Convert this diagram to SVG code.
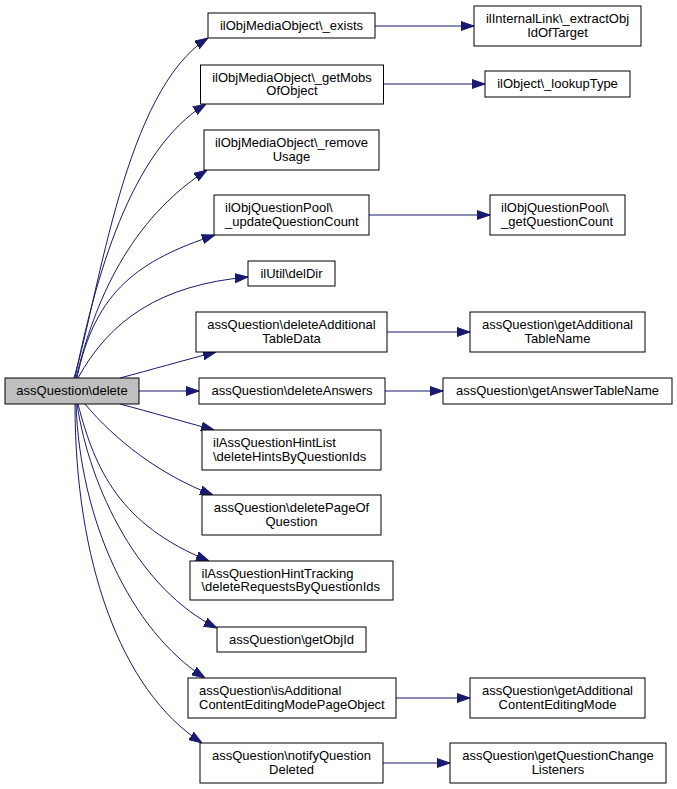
<svg xmlns="http://www.w3.org/2000/svg" width="677" height="789" viewBox="0 0 677 789">
<style>
.n rect{fill:#fff;stroke:#000;stroke-width:1}
.src rect{fill:#bfbfbf}
text{font-family:"Liberation Sans",Arial,sans-serif;font-size:13px;fill:#000}
.c{text-anchor:middle}
.e path{fill:none;stroke:#191970;stroke-width:1;marker-end:url(#ah)}
</style>
<defs>
<marker id="ah" markerUnits="userSpaceOnUse" markerWidth="13" markerHeight="10" viewBox="0 0 13 10" refX="13" refY="5" orient="auto">
<path d="M0,0.5 L13,5 L0,9.5 z" fill="#191970" stroke="#191970" stroke-width="1"/>
</marker>
</defs>
<rect width="677" height="789" fill="#fff"/>
<g id="edges" class="e">
<path d="M74,378 C100,290 125,90 208,38"/>
<path d="M75,378 C95,280 130,150 206,104"/>
<path d="M76,378 C95,300 130,220 207,170"/>
<path d="M77,378 C95,290 140,260 215,235"/>
<path d="M78,378 C110,320 160,285 248,277"/>
<path d="M120,378 C150,370 185,360 216,352"/>
<path d="M139,391 L199,391"/>
<path d="M120,404 C150,412 185,422 214,430"/>
<path d="M85,404 C115,440 160,475 213,495"/>
<path d="M78,404 C95,470 120,525 209,561"/>
<path d="M77,404 C90,490 140,590 217,628"/>
<path d="M76,404 C80,520 130,630 205,678"/>
<path d="M75,404 C75,560 120,690 202,743"/>
<path d="M375,26 L474,26"/>
<path d="M383,84 L485,84"/>
<path d="M369,215 L490,215"/>
<path d="M387,332 L470,332"/>
<path d="M385,391 L443,391"/>
<path d="M396,698 L470,698"/>
<path d="M383,763 L450,763"/>
</g>
<g id="n0" class="n src"><rect x="5" y="378" width="134" height="26"/><text class="c" x="72" y="395">assQuestion\delete</text></g>
<g id="n1" class="n"><rect x="208" y="13" width="167" height="25"/><text class="c" x="291.5" y="30">ilObjMediaObject\_exists</text></g>
<g id="n2" class="n"><rect x="200.5" y="65" width="183" height="39"/><text class="c" x="292" y="81.5">ilObjMediaObject\_getMobs</text><text class="c" x="292" y="95">OfObject</text></g>
<g id="n3" class="n"><rect x="204" y="130" width="175" height="40"/><text class="c" x="291.5" y="147">ilObjMediaObject\_remove</text><text class="c" x="291.5" y="160.5">Usage</text></g>
<g id="n4" class="n"><rect x="214" y="195" width="155" height="40"/><text x="225" y="212">ilObjQuestionPool\</text><text x="225" y="225.5">_updateQuestionCount</text></g>
<g id="n5" class="n"><rect x="248" y="261" width="87" height="25"/><text class="c" x="291.5" y="278">ilUtil\delDir</text></g>
<g id="n6" class="n"><rect x="196" y="312" width="191" height="40"/><text class="c" x="291.5" y="329">assQuestion\deleteAdditional</text><text class="c" x="291.5" y="342.5">TableData</text></g>
<g id="n7" class="n"><rect x="199" y="378" width="186" height="26"/><text class="c" x="292" y="395">assQuestion\deleteAnswers</text></g>
<g id="n8" class="n"><rect x="202" y="430" width="179" height="40"/><text x="213" y="447">ilAssQuestionHintList</text><text x="213" y="460.5">\deleteHintsByQuestionIds</text></g>
<g id="n9" class="n"><rect x="202" y="495" width="179" height="40"/><text class="c" x="291.5" y="512">assQuestion\deletePageOf</text><text class="c" x="291.5" y="525.5">Question</text></g>
<g id="n10" class="n"><rect x="190" y="561" width="203" height="39"/><text x="201.5" y="577.5">ilAssQuestionHintTracking</text><text x="201.5" y="591">\deleteRequestsByQuestionIds</text></g>
<g id="n11" class="n"><rect x="217" y="627" width="149" height="25"/><text class="c" x="291.5" y="644">assQuestion\getObjId</text></g>
<g id="n12" class="n"><rect x="188" y="678" width="208" height="40"/><text x="199" y="695">assQuestion\isAdditional</text><text x="199" y="708.5">ContentEditingModePageObject</text></g>
<g id="n13" class="n"><rect x="200" y="743" width="183" height="40"/><text class="c" x="291.5" y="760">assQuestion\notifyQuestion</text><text class="c" x="291.5" y="773.5">Deleted</text></g>
<g id="r1" class="n"><rect x="474" y="6" width="167" height="40"/><text class="c" x="557.5" y="23">ilInternalLink\_extractObj</text><text class="c" x="557.5" y="36.5">IdOfTarget</text></g>
<g id="r2" class="n"><rect x="485" y="71" width="145" height="26"/><text class="c" x="557.5" y="88">ilObject\_lookupType</text></g>
<g id="r3" class="n"><rect x="490" y="195" width="135" height="40"/><text x="501" y="212">ilObjQuestionPool\</text><text x="501" y="225.5">_getQuestionCount</text></g>
<g id="r4" class="n"><rect x="470" y="312" width="175" height="40"/><text class="c" x="557.5" y="329">assQuestion\getAdditional</text><text class="c" x="557.5" y="342.5">TableName</text></g>
<g id="r5" class="n"><rect x="443" y="378" width="229" height="26"/><text class="c" x="557.5" y="395">assQuestion\getAnswerTableName</text></g>
<g id="r6" class="n"><rect x="470" y="678" width="175" height="40"/><text class="c" x="557.5" y="695">assQuestion\getAdditional</text><text class="c" x="557.5" y="708.5">ContentEditingMode</text></g>
<g id="r7" class="n"><rect x="450" y="743" width="216" height="40"/><text class="c" x="558" y="760">assQuestion\getQuestionChange</text><text class="c" x="558" y="773.5">Listeners</text></g>
</svg>
